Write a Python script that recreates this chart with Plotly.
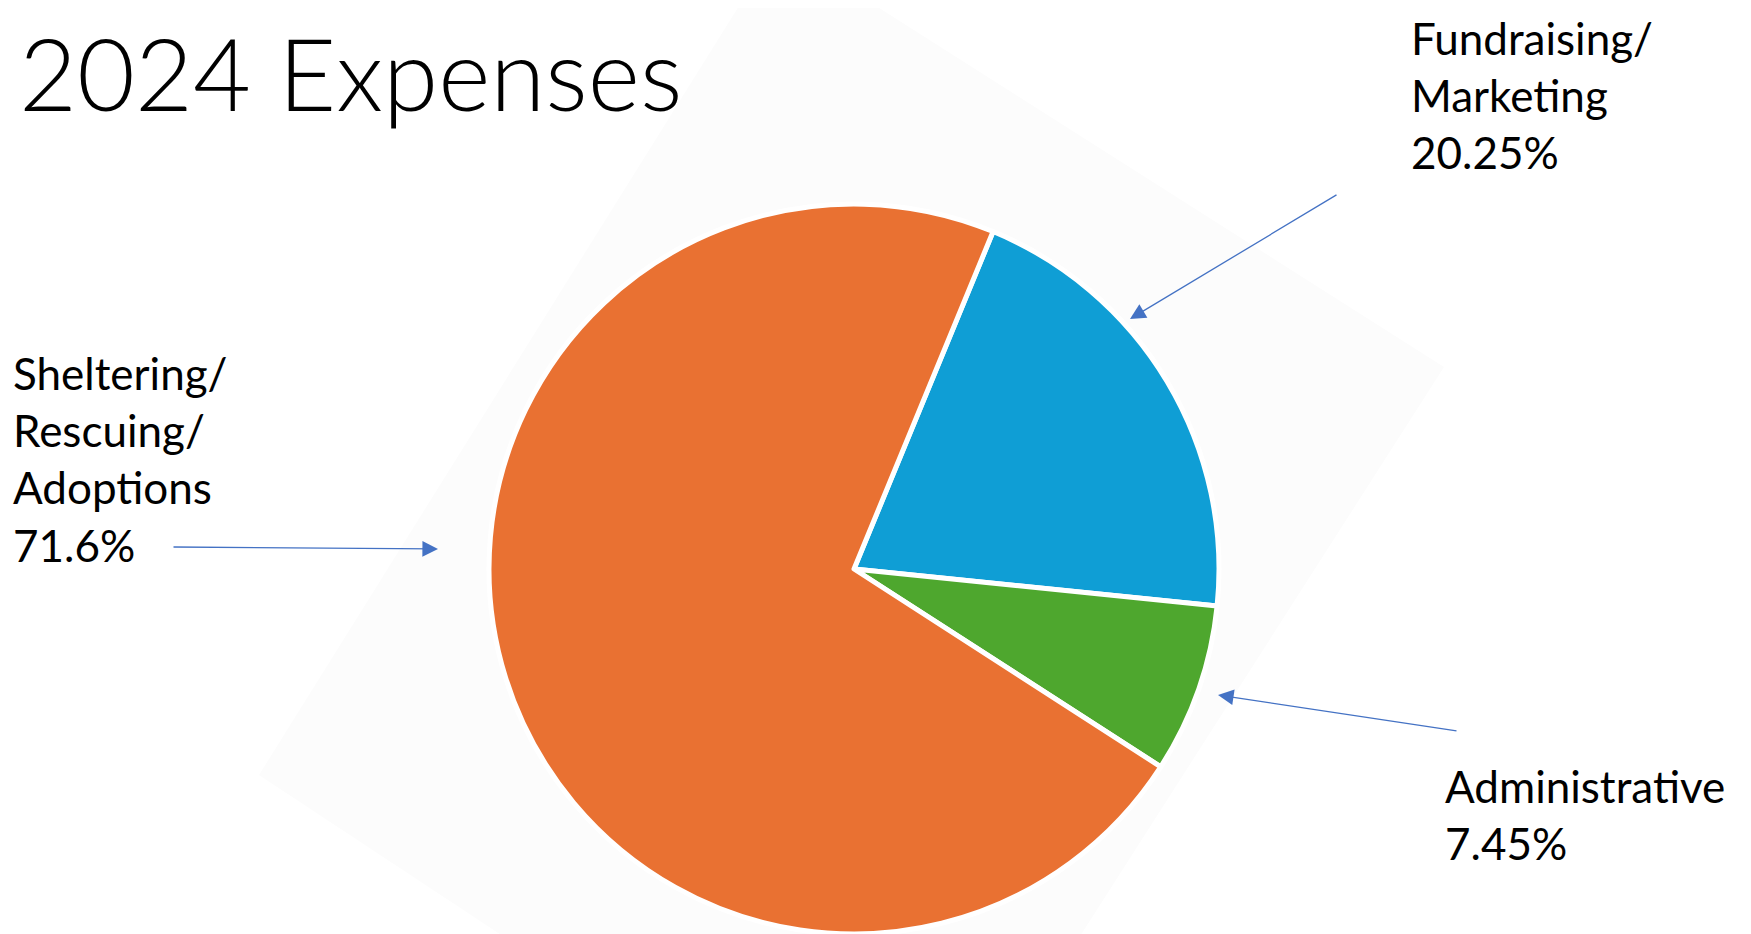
import plotly.graph_objects as go

W, H = 1751, 934

# ---- data ----
categories = ["Fundraising/\nMarketing", "Administrative", "Sheltering/\nRescuing/\nAdoptions"]
values = [20.25, 7.45, 71.6]
colors = ["#0F9ED5", "#4EA72E", "#E97132"]
title_text = "2024 Expenses"

def px(x):
    return x / W

def py(y):
    return 1 - y / H

fig = go.Figure()

# pie centre / radius in pixels
cx, cy, r = 846, 561, 365
fig.add_trace(go.Pie(
    labels=categories,
    values=values,
    marker=dict(colors=colors, line=dict(color="white", width=5)),
    sort=False,
    direction="clockwise",
    rotation=22.4,
    textinfo="none",
    hoverinfo="label+percent",
    showlegend=False,
    domain=dict(x=[px(cx - r), px(cx + r)], y=[py(cy + r), py(cy - r)]),
))

# faint background parallelogram (clipped to the page)
pts = [(731, -2), (868, -2), (1436, 359), (1067, 936), (507, 936), (251, 767)]
path = "M " + " L ".join(f"{px(x):.5f},{py(y):.5f}" for x, y in pts) + " Z"
fig.add_shape(type="path", path=path, xref="paper", yref="paper",
              fillcolor="#fcfcfc", line=dict(width=0), layer="below")

font_lbl = dict(family="Lato, 'Open Sans', sans-serif", size=44, color="#000000")

annotations = [
    dict(text=title_text, x=px(9), y=py(2), xanchor="left", yanchor="top",
         font=dict(family="Lato, 'Open Sans', sans-serif", size=100, color="#000000", weight=300)),
    dict(text="Fundraising/<br>Marketing<br>20.25%", x=px(1401), y=py(2), xanchor="left", yanchor="top",
         align="left", font=font_lbl),
    dict(text="Sheltering/<br>Rescuing/<br>Adoptions<br>71.6%", x=px(3), y=py(337), xanchor="left",
         yanchor="top", align="left", font=font_lbl),
    dict(text="Administrative<br>7.45%", x=px(1435), y=py(750), xanchor="left", yanchor="top",
         align="left", font=font_lbl),
]

arrow_style = dict(showarrow=True, text="", arrowhead=2, arrowsize=2.4, arrowwidth=1.3,
                   arrowcolor="#4472C4", xref="paper", yref="paper", axref="pixel", ayref="pixel")
annotations += [
    dict(x=px(1122), y=py(311), ax=208, ay=-125, **arrow_style),
    dict(x=px(430), y=py(541), ax=-266, ay=-2, **arrow_style),
    dict(x=px(1210), y=py(687), ax=240, ay=36, **arrow_style),
]
for a in annotations:
    a.setdefault("xref", "paper")
    a.setdefault("yref", "paper")
    a.setdefault("showarrow", False)

fig.update_layout(
    width=W, height=H,
    margin=dict(l=0, r=0, t=0, b=0),
    paper_bgcolor="white", plot_bgcolor="white",
    annotations=annotations,
)

fig.write_html("out.html")
